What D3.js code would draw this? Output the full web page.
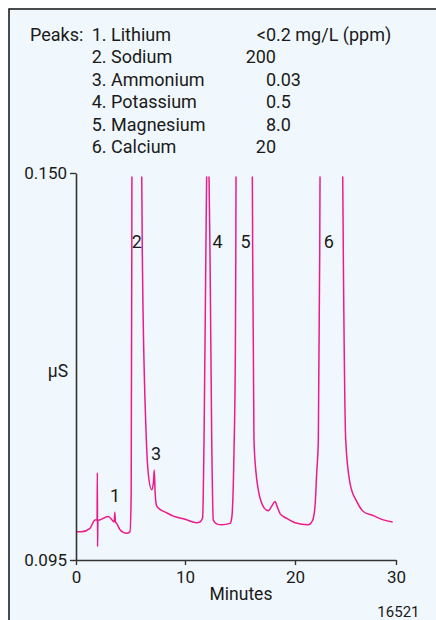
<!DOCTYPE html>
<html><head><meta charset="utf-8">
<script src="https://cdn.jsdelivr.net/npm/d3@7"></script>
<style>
body{margin:0;background:#fff}
svg{display:block}
text{font-family:Roboto,"Liberation Sans",sans-serif;fill:#1a1a1a}
</style>
</head><body>
<svg id="c" width="436" height="620"></svg>
<script>
// ---- data ----
const peakNames = ["1. Lithium","2. Sodium","3. Ammonium","4. Potassium","5. Magnesium","6. Calcium"];
const peakConc  = ["<0.2 mg/L (ppm)","200","0.03","0.5","8.0","20"];
const peakLabels = ["1","2","3","4","5","6"];
const peakLabelTime  = [3.58, 5.58, 7.34, 12.95, 15.5, 23.35];
const peakLabelValue = [0.1042, 0.1402, 0.1101, 0.1402, 0.1402, 0.1402];
const xTicks = [0, 10, 20, 30];
const yTicks = [0.095, 0.150];
const timeMin = [0,0.5,1.28,1.74,1.93,1.96,1.98,2.01,2.20,2.96,3.42,3.50,3.56,3.62,3.73,4.04,4.65,4.95,
  5.06,5.12,5.13,5.55,6.03,6.08,6.42,6.63,6.94,7.10,7.18,7.26,7.40,7.70,8.20,9.0,10.0,11.06,11.36,11.60,
  11.73,11.90,11.97,12.08,12.18,12.27,12.43,12.57,12.90,13.34,14.09,14.25,14.45,14.58,14.62,14.64,15.4,
  16.12,16.15,16.27,16.45,16.66,17.12,17.57,17.90,18.18,18.40,18.64,19.25,20.0,21.32,21.60,21.81,22.0,
  22.15,22.31,22.45,22.48,23.6,24.72,24.78,25.02,25.45,26.12,26.76,27.75,28.74,29.67];
const signal = [0.0990,0.0990,0.0995,0.1007,0.1007,0.1074,0.0969,0.1006,0.1007,0.1012,0.1005,0.1004,0.1018,0.1004,0.1002,0.0993,0.0988,0.0990,
  0.1040,0.1391,0.1500,0.1700,0.1500,0.1391,0.1135,0.1073,0.1050,0.1060,0.1078,0.1045,0.1027,0.1022,0.1018,0.1012,0.1008,0.1003,0.1004,0.1010,
  0.1121,0.1391,0.1500,0.1600,0.1500,0.1391,0.1121,0.1007,0.1001,0.1000,0.1002,0.1010,0.1100,0.1250,0.1391,0.1500,0.1750,
  0.1500,0.1391,0.1121,0.1075,0.1050,0.1026,0.1020,0.1027,0.1033,0.1025,0.1016,0.1009,0.1003,0.1000,0.1003,0.1009,0.1030,
  0.1074,0.1121,0.1391,0.1500,0.1800,0.1500,0.1391,0.1121,0.1059,0.1033,0.1019,0.1013,0.1007,0.1004];

// ---- drawing ----
const svg = d3.select("#c");
const ink = "#1a1a1a", axisCol = "#333", trace = "#ec1a8c";

svg.append("rect").attr("x",9).attr("y",9).attr("width",440).attr("height",620)
  .attr("fill","#f1f8fd").attr("stroke","#111").attr("stroke-width",1.5);

const x = d3.scaleLinear().domain([0,10,20,30]).range([76,185,295,396]);
const y = d3.scaleLinear().domain([0.095,0.150]).range([560,173]);

// legend
const leg = svg.append("g").style("font-size","18px");
leg.append("text").attr("x",30).attr("y",40.7).text("Peaks:");
peakNames.forEach((n,i)=>{
  const by = 40.7 + i*22.5;
  leg.append("text").attr("x",91.7).attr("y",by).text(n);
  const v = peakConc[i];
  const intPart = v.split(".")[0].split(" ")[0];
  const t = leg.append("text").attr("y",by).text(v);
  const tmp = leg.append("text").attr("y",by).text(intPart);
  const w = tmp.node().getComputedTextLength(); tmp.remove();
  t.attr("x", 276 - w);
});

// clip for off-scale peaks
svg.append("clipPath").attr("id","pc").append("rect")
  .attr("x",x(0)).attr("y",y(0.1495)).attr("width",x(30)-x(0)).attr("height",y(0.095)-y(0.1495));

const pts = timeMin.map((t,i)=>[t,signal[i]]);
svg.append("path").attr("clip-path","url(#pc)")
  .attr("d", d3.line().x(d=>x(d[0])).y(d=>y(d[1])).curve(d3.curveMonotoneX)(pts))
  .attr("fill","none").attr("stroke",trace).attr("stroke-width",1.5).attr("stroke-linejoin","round");

// axes
const ax = svg.append("g").attr("transform",`translate(0,${y(0.095)})`)
  .call(d3.axisBottom(x).tickValues(xTicks).tickSize(5).tickSizeOuter(0).tickPadding(6).tickFormat(d3.format("d")));
const ay = svg.append("g").attr("transform",`translate(${x(0)},0)`)
  .call(d3.axisLeft(y).tickValues(yTicks).tickSize(6).tickSizeOuter(0).tickPadding(3).tickFormat(d3.format(".3f")));
[ax,ay].forEach(g=>{
  g.select(".domain").attr("stroke",axisCol).attr("stroke-width",1.6);
  g.selectAll(".tick line").attr("stroke",axisCol).attr("stroke-width",1.4);
  g.selectAll(".tick text").attr("fill",ink).style("font-size","17px")
    .style("font-family",'Roboto,"Liberation Sans",sans-serif');
});

// peak labels
peakLabels.forEach((l,i)=>{
  svg.append("text").attr("x",x(peakLabelTime[i])).attr("y",y(peakLabelValue[i]))
    .attr("dy","0.36em").attr("text-anchor","middle").style("font-size","18px").text(l);
});

// axis titles
svg.append("text").attr("x",58).attr("y",377).attr("text-anchor","middle").style("font-size","17.5px").text("µS");
svg.append("text").attr("x",241).attr("y",600).attr("text-anchor","middle").style("font-size","17.5px").text("Minutes");
svg.append("text").attr("x",419.5).attr("y",616.5).attr("text-anchor","end").style("font-size","15px").text("16521");
</script>
</body></html>
